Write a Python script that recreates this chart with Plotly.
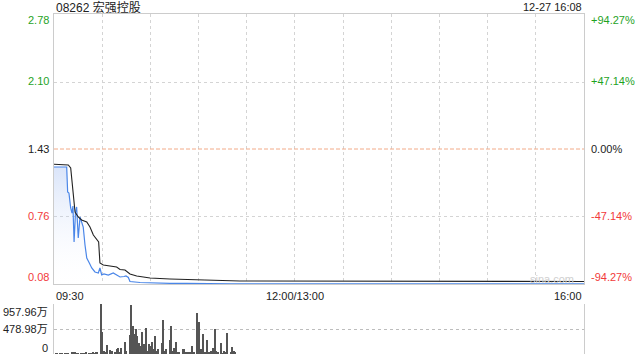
import plotly.graph_objects as go

# ---------------- data ----------------
title_text = "08262 宏强控股"
stamp_text = "12-27 16:08"
prev_close = 1.43
price_ticks = [2.78, 2.10, 1.43, 0.76, 0.08]
pct_labels = ["+94.27%", "+47.14%", "0.00%", "-47.14%", "-94.27%"]
vol_ticks = [957.96, 478.98, 0]
vol_labels = ["957.96万", "478.98万", "0"]
time_ticks = [0, 150, 330]
time_labels = ["09:30", "12:00/13:00", "16:00"]

# minutes after 09:30 (lunch break removed)
price_minutes = [0, 7.9, 8.5, 9.3, 10.4, 11.2, 11.8, 12.5, 13.4, 14.1, 15.1, 16.2, 17.4,
                 18.2, 19.3, 20.4, 22.0, 23.5, 25.5, 27.6, 28.6, 29.7, 31.1, 33.8, 36.9,
                 40.0, 41.1, 43.6, 44.8, 46.3, 47.3, 53.6, 61.8, 72.2, 82.6, 91.0, 110.0, 330.0]
price_values = [1.25, 1.25, 1.00, 0.99, 0.84, 0.79, 0.86, 0.50, 0.80, 0.85, 0.54, 0.75, 0.69,
                0.65, 0.47, 0.34, 0.29, 0.24, 0.20, 0.19, 0.24, 0.17, 0.18, 0.17, 0.19,
                0.16, 0.15, 0.155, 0.16, 0.145, 0.105, 0.095, 0.09, 0.087, 0.086, 0.083, 0.082, 0.082]

avg_minutes = [0, 8.9, 10.4, 11.6, 13.1, 15.1, 17.2, 20.4, 22.4, 24.5, 26.6, 27.8, 28.6,
               30.7, 39.0, 41.1, 44.2, 47.3, 51.5, 59.8, 72.2, 90.9, 115.8, 330.0]
avg_values = [1.277, 1.27, 1.24, 1.04, 0.80, 0.75, 0.72, 0.70, 0.65, 0.57, 0.52, 0.50, 0.29,
              0.27, 0.25, 0.225, 0.22, 0.18, 0.16, 0.14, 0.13, 0.12, 0.11, 0.105]

vol_minutes = [1, 2, 4, 5, 7, 8, 9, 11, 12, 13, 14, 15, 17, 18, 19, 20, 22, 23, 24, 25, 26, 27,
               29, 30, 31, 32, 33, 35, 36, 38, 39, 40, 41, 42, 44, 45, 47, 48, 49, 50, 51, 52,
               53, 54, 55, 56, 57, 58, 59, 60, 61, 62, 63, 64, 65, 67, 68, 69, 70, 72, 73, 74,
               75, 76, 77, 78, 80, 81, 82, 83, 84, 85, 86, 87, 89, 90, 91, 92, 93, 94, 95, 96,
               97, 98, 99, 100, 101, 102, 104, 105, 106, 107, 108, 110, 111, 112, 113]
vol_values = [15, 8, 12, 10, 18, 10, 12, 25, 40, 30, 10, 15, 8, 12, 10, 20, 10, 15, 30, 12, 20, 35,
              957.96, 427, 57, 30, 172, 77, 57, 35, 102, 115, 40, 121, 230, 57, 364, 940, 536, 390, 473, 345,
              220, 150, 427, 186, 492, 57, 186, 149, 230, 100, 345, 57, 100, 216, 651, 57, 90, 268, 536, 57,
              115, 235, 25, 30, 90, 100, 30, 40, 30, 25, 153, 30, 779, 613, 90, 100, 377, 30, 268, 20,
              30, 57, 115, 473, 57, 25, 218, 10, 57, 25, 409, 20, 130, 60, 20]

# ---------------- style ----------------
GREEN = "#1fa31f"
RED = "#f23a3a"
BLACK = "#222222"
FONT = "Arial, 'Liberation Sans', 'Noto Sans CJK SC', sans-serif"
W, H = 640, 360
L, R, T, B = 54, 56, 14, 6
plot_h = H - T - B


def py(ypx):
    return (H - B - ypx) / plot_h


price_dom = [py(284), 1.0]
vol_dom = [0.0, py(304)]

fig = go.Figure()

fig.add_trace(go.Scatter(
    x=price_minutes, y=price_values, mode="lines",
    line=dict(color="#4a86e8", width=1.2),
    fill="tozeroy",
    fillgradient=dict(type="vertical",
                      colorscale=[[0, "rgba(255,255,255,0)"], [1, "rgba(150,180,240,0.35)"]]),
    xaxis="x", yaxis="y", hoverinfo="skip", showlegend=False))

fig.add_trace(go.Scatter(
    x=avg_minutes, y=avg_values, mode="lines",
    line=dict(color="#222222", width=1.1),
    xaxis="x", yaxis="y", hoverinfo="skip", showlegend=False))

fig.add_trace(go.Bar(
    x=vol_minutes, y=vol_values, width=0.6,
    marker=dict(color="#555555", line=dict(width=0)),
    xaxis="x2", yaxis="y2", hoverinfo="skip", showlegend=False))

# prev-close dashed line
fig.add_shape(type="line", xref="x", yref="y", x0=0, x1=330, y0=prev_close, y1=prev_close,
              line=dict(color="#f2aa88", width=1, dash="4px,2px"), layer="above")

grid = dict(showgrid=True, gridcolor="#d4d4d4", griddash="dot", gridwidth=1)

fig.update_layout(
    width=W, height=H,
    margin=dict(l=L, r=R, t=T, b=B),
    paper_bgcolor="white", plot_bgcolor="white",
    font=dict(family=FONT, size=11, color=BLACK),
    bargap=0,
    xaxis=dict(domain=[0, 1], anchor="y", range=[0, 330], tickvals=list(range(30, 330, 30)),
               showticklabels=False, ticks="", zeroline=False,
               showline=True, mirror=True, linecolor="#cccccc", linewidth=1, **grid),
    yaxis=dict(domain=price_dom, anchor="x", range=[0.08, 2.78], tickvals=[2.10, 0.76],
               showticklabels=False, ticks="", zeroline=False,
               showline=True, mirror=True, linecolor="#cccccc", linewidth=1, **grid),
    xaxis2=dict(domain=[0, 1], anchor="y2", range=[0, 330], showgrid=False,
                showticklabels=False, ticks="", zeroline=False, showline=False),
    yaxis2=dict(domain=vol_dom, anchor="x2", range=[0, 957.96], tickvals=vol_ticks,
                showticklabels=False, ticks="", zeroline=False,
                showgrid=True, gridcolor="#bdbdbd", griddash="dot", gridwidth=1,
                showline=True, mirror=True, linecolor="#cccccc", linewidth=1),
)

ann = []
# title + timestamp
ann.append(dict(text=title_text, xref="paper", yref="paper", x=0, y=py(7), xanchor="left",
                yanchor="middle", showarrow=False, font=dict(size=12, color=BLACK)))
ann.append(dict(text=stamp_text, xref="paper", yref="paper", x=1, y=py(7), xanchor="right",
                yanchor="middle", showarrow=False, font=dict(size=11, color=BLACK)))

# price labels
shifts = [-6, 1, 0, 0, 7]
for v, p, s in zip(price_ticks, pct_labels, shifts):
    col = GREEN if v > prev_close + 1e-9 else (RED if v < prev_close - 1e-9 else BLACK)
    ann.append(dict(text=f"{v:.2f}", xref="paper", yref="y", x=0, y=v, xshift=-3, yshift=s,
                    xanchor="right", yanchor="middle", showarrow=False, font=dict(size=11, color=col)))
    ann.append(dict(text=p, xref="paper", yref="y", x=1, y=v, xshift=5, yshift=s,
                    xanchor="left", yanchor="middle", showarrow=False, font=dict(size=11, color=col)))

# volume labels
vshifts = [-8, 0, 6]
for v, t, s in zip(vol_ticks, vol_labels, vshifts):
    ann.append(dict(text=t, xref="paper", yref="y2", x=0, y=v, xshift=-4, yshift=s,
                    xanchor="right", yanchor="middle", showarrow=False, font=dict(size=11, color=BLACK)))

# time labels
anchors = ["left", "center", "right"]
for tv, tl, a in zip(time_ticks, time_labels, anchors):
    ann.append(dict(text=tl, xref="x", yref="paper", x=tv, y=py(296), xanchor=a,
                    yanchor="middle", showarrow=False, font=dict(size=11, color=BLACK)))

# watermark
ann.append(dict(text="sina.com", xref="paper", yref="paper", x=(552 - L) / 530, y=py(279),
                xanchor="center", yanchor="middle", showarrow=False,
                font=dict(size=11, color="#cfcfcf")))

fig.update_layout(annotations=ann)

fig.write_html("out.html", config={"displayModeBar": False},
               post_script="document.body.style.margin='0';document.body.style.overflow='hidden';")
